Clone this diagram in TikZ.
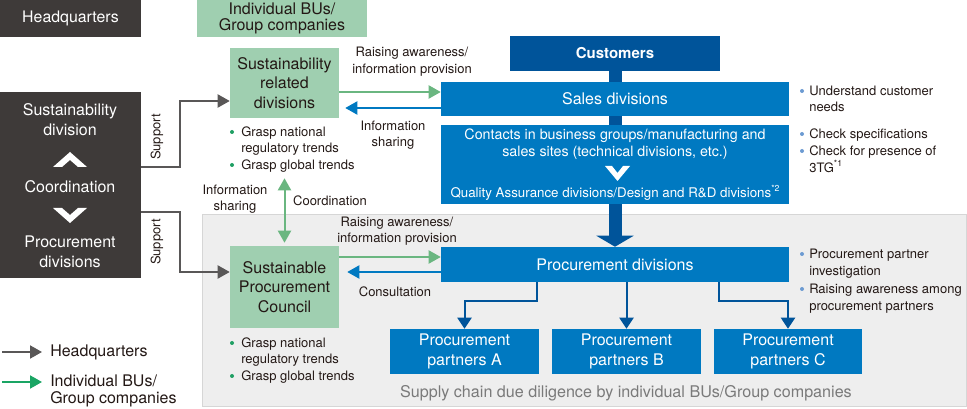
\documentclass[tikz,border=0pt]{standalone}
\usepackage{fontspec}
\setmainfont{TeX Gyre Heros}
\usetikzlibrary{arrows.meta,backgrounds,calc}
\definecolor{hqdark}{HTML}{3E3A39}
\definecolor{bugreen}{HTML}{9FCFB0}
\definecolor{argreen}{HTML}{6AB680}
\definecolor{leggreen}{HTML}{1AA564}
\definecolor{dotgreen}{HTML}{1F9F63}
\definecolor{argray}{HTML}{595757}
\definecolor{boxblue}{HTML}{0079C1}
\definecolor{custblue}{HTML}{00549A}
\definecolor{dotblue}{HTML}{6C9BD2}
\definecolor{regfill}{HTML}{EEEEEE}
\definecolor{regline}{HTML}{D6D6D6}
\definecolor{txt}{HTML}{231815}
\definecolor{graytxt}{HTML}{7A7A7A}
\newcommand{\supsmall}[1]{\raisebox{0.45em}{\fontsize{6.5}{7}\selectfont #1}}
\begin{document}
\begin{tikzpicture}[x=0.75pt,y=-0.75pt,
  sz/.style 2 args={minimum width=#1*0.75pt, minimum height=#2*0.75pt},
  boxfont/.style={font=\fontsize{12}{14.6}\selectfont},
  darkbox/.style={fill=hqdark, text=white, inner sep=0pt, align=center, boxfont},
  greenbox/.style={fill=bugreen, text=txt, inner sep=0pt, align=center, boxfont},
  bluebox/.style={fill=boxblue, text=white, inner sep=0pt, align=center, boxfont},
  custbox/.style={fill=custblue, text=white, inner sep=0pt, font=\fontsize{11.25}{13}\selectfont\bfseries},
  wtext/.style={text=white, inner sep=0pt, align=center, boxfont},
  wsmall/.style={text=white, inner sep=0pt, align=center, font=\fontsize{10.7}{12.75}\selectfont},
  wsmaller/.style={text=white, inner sep=0pt, align=center, font=\fontsize{10}{12}\selectfont},
  lbl/.style={text=txt, inner sep=0pt, align=center, font=\fontsize{9.75}{12.4}\selectfont},
  btxt/.style={text=txt, inner sep=0pt, anchor=west, text height=7pt, text depth=0pt, font=\fontsize{9.75}{12.4}\selectfont},
  legtxt/.style={text=txt, inner sep=0pt, anchor=west, align=left, font=\fontsize{12}{12.75}\selectfont},
  tipA/.style={-{Triangle[width=9.75pt,length=9pt]}},
  garrow/.style={draw=argreen, line width=1.5pt, tipA},
  barrow/.style={draw=boxblue, line width=1.5pt, tipA},
  grarrow/.style={draw=argray, line width=1.5pt, tipA},
  lgarrow/.style={draw=leggreen, line width=1.5pt, tipA},
  pline/.style={draw=custblue, line width=1.5pt, -{Triangle[width=10.5pt,length=8.25pt]}},
  gdot/.style={fill=dotgreen},
  bdot/.style={fill=dotblue}
]
\useasboundingbox (0,0) rectangle (967,409);

% headquarters side
\node[darkbox, sz={141}{37}, font=\fontsize{11.9}{13}\selectfont] (hq) at (70.5,18.5) {Headquarters};
\node[greenbox, sz={170}{37}, font=\fontsize{12}{12}\selectfont] (bu) at (282,18.5) {Individual BUs/\\Group companies};
\node[darkbox, sz={141}{186}] (hd) at (70.5,185) {};
\node[wtext] (sd) at (70,119.5) {Sustainability\\division};
\node[wtext] (co) at (70,187) {Coordination};
\node[wtext] (pd) at (70,252) {Procurement\\divisions};
\fill[white] (53,167) -- (70,152) -- (87,167) -- (78,167) -- (70,160) -- (62,167) -- cycle;
\fill[white] (53,208) -- (62,208) -- (70,215) -- (78,208) -- (87,208) -- (70,223) -- cycle;

% green boxes
\node[greenbox, sz={109}{70}] (srd) at (284.5,83) {Sustainability\\related\\divisions};
\node[greenbox, sz={109}{82}] (spc) at (284.5,287) {Sustainable\\Procurement\\Council};

% blue boxes
\node[custbox, sz={210}{35}] (cust) at (615,53.5) {Customers};
\node[bluebox, sz={348}{34}] (sales) at (615,99) {Sales divisions};
\node[bluebox, sz={348}{79}] (cont) at (615,164.5) {};
\node[wsmall] (c1) at (615,144.5) {Contacts in business groups/manufacturing and\\sales sites (technical divisions, etc.)};
\node[wsmaller] (c2) at (615,193) {Quality Assurance divisions/Design and R\&D divisions\supsmall{*2}};
\fill[white] (605,166) -- (612,166) -- (617.5,173) -- (623,166) -- (630,166) -- (617.5,181) -- cycle;
\node[bluebox, sz={348}{35}] (proc) at (615,264.5) {Procurement divisions};
\node[bluebox, sz={149}{45}] (pa) at (464.5,351.5) {Procurement\\partners A};
\node[bluebox, sz={149}{45}] (pb) at (626.5,351.5) {Procurement\\partners B};
\node[bluebox, sz={148}{45}] (pc) at (788,351.5) {Procurement\\partners C};
\node[text=graytxt, inner sep=0pt, font=\fontsize{12.1}{14}\selectfont] (sc) at (626,393) {Supply chain due diligence by individual BUs/Group companies};

% support arrows
\draw[grarrow] ($(hd.east)+(0,-18)$) -| ($(srd.west)+(-50,18)$) -- ($(srd.west)+(0,18)$);
\draw[grarrow] ($(hd.east)+(0,27)$) -| ($(spc.west)+(-50,-15)$) -- ($(spc.west)+(0,-15)$);
\node[lbl, rotate=90] (s1) at (157,137) {Support};
\node[lbl, rotate=90] (s2) at (157,242) {Support};

% upper exchange
\draw[garrow] ($(srd.east)+(0,9)$) -- ($(sales.west)+(0,-7)$);
\draw[barrow] ($(sales.west)+(0,9)$) -- ($(srd.east)+(6,25)$);
\node[lbl] (l1) at (412,61.5) {Raising awareness/\\information provision};
\node[lbl] (l2) at (393,135) {Information\\sharing};

% lower exchange
\draw[garrow] ($(spc.east)+(0,-30)$) -- ($(proc.west)+(0,-7.5)$);
\draw[barrow] ($(proc.west)+(0,7.5)$) -- ($(spc.east)+(8,-15)$);
\node[lbl] (l3) at (397,231) {Raising awareness/\\information provision};
\node[lbl] (l4) at (395,292) {Consultation};

% vertical coordination arrow
\draw[draw=argreen, line width=1.5pt, {Triangle[width=9.75pt,length=9pt]}-{Triangle[width=9.75pt,length=9pt]}] ($(srd.south)+(0,60)$) -- ($(spc.north)+(0,-3)$);
\node[lbl] (l5) at (235,199) {Information\\sharing};
\node[lbl] (l6) at (330,201) {Coordination};

% left bullets
\fill[gdot] (232,132) circle (1.5pt);
\node[btxt] (b1) at (241,132) {Grasp national};
\node[btxt] (b2) at (241,148) {regulatory trends};
\fill[gdot] (232,165) circle (1.5pt);
\node[btxt] (b3) at (241,165) {Grasp global trends};
\fill[gdot] (232,343) circle (1.5pt);
\node[btxt] (b4) at (241,343) {Grasp national};
\node[btxt] (b5) at (241,359) {regulatory trends};
\fill[gdot] (232,376) circle (1.5pt);
\node[btxt] (b6) at (241,376) {Grasp global trends};

% right bullets
\fill[bdot] (802,91) circle (1.5pt);
\node[btxt] (r1) at (809,91) {Understand customer};
\node[btxt] (r2) at (809,107) {needs};
\fill[bdot] (802,134) circle (1.5pt);
\node[btxt] (r3) at (809,134) {Check specifications};
\fill[bdot] (802,151) circle (1.5pt);
\node[btxt] (r4) at (809,151) {Check for presence of};
\node[btxt] (r5) at (809,168) {3TG\supsmall{*1}};
\fill[bdot] (802,254) circle (1.5pt);
\node[btxt] (r6) at (809,254) {Procurement partner};
\node[btxt] (r7) at (809,271) {investigation};
\fill[bdot] (802,289) circle (1.5pt);
\node[btxt] (r8) at (809,289) {Raising awareness among};
\node[btxt] (r9) at (809,306) {procurement partners};

% partner connectors
\draw[pline] ([xshift=-78*0.75pt]proc.south) |- ([yshift=28*0.75pt]pa.north) -- (pa.north);
\draw[pline] (proc.south -| pb.north) -- (pb.north);
\draw[pline] ([xshift=104*0.75pt]proc.south) |- ([yshift=28*0.75pt]pc.north) -- (pc.north);

% legend
\coordinate (la1) at (2,352);
\coordinate (lb1) at (42,352);
\coordinate (la2) at (2,382);
\coordinate (lb2) at (42,382);
\draw[grarrow] (la1) -- (lb1);
\draw[lgarrow] (la2) -- (lb2);
\node[legtxt] (lt1) at (50,352) {Headquarters};
\node[legtxt] (lt2) at (50,390.5) {Individual BUs/\\Group companies};

\begin{scope}[on background layer]
\node[fill=regfill, draw=regline, line width=0.75pt, sz={764}{191}, inner sep=0pt] (reg) at (584,310.5) {};
\draw[draw=custblue, line width=9.75pt, -{Triangle[width=27.75pt,length=8.25pt]}] (cust.south) -- (cust.south |- proc.north);
\end{scope}
\end{tikzpicture}
\end{document}
